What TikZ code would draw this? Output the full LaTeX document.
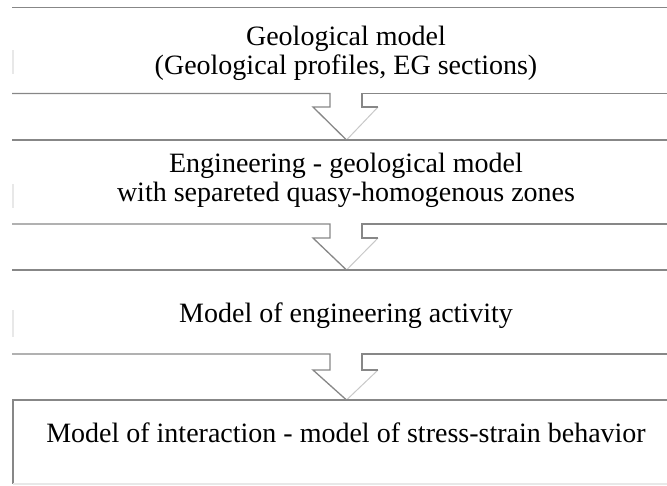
\documentclass[tikz,border=0pt]{standalone}
\usepackage{fontspec}
\setmainfont{Liberation Serif}
\definecolor{linegray}{RGB}{135,135,135}
\definecolor{lightarrow}{RGB}{200,200,200}
\definecolor{faint}{RGB}{232,232,232}
\tikzset{
  boxline/.style={draw=linegray, line width=1.3pt},
  faintline/.style={draw=faint, line width=1.2pt},
  lbl/.style={align=center, inner sep=0pt, font=\fontsize{28}{29}\selectfont}
}
\begin{document}
\begin{tikzpicture}[x=1pt,y=-1pt]
\useasboundingbox (0,0) rectangle (667,485);
% text nodes
\node[lbl] (b1) at (346,53) {Geological model\\(Geological profiles, EG sections)};
\node[lbl] (b2) at (346,180) {Engineering - geological model\\with separeted quasy-homogenous zones};
\node[lbl] (b3) at (346,316) {Model of engineering activity};
\node[lbl] (b4) at (346,433) {Model of interaction - model of stress-strain behavior};
% box 1 top
\draw[boxline] (12,7.5) -- (667,7.5);
% box 1 bottom + arrow 1
\draw[boxline] (12,93.5) -- (330,93.5) -- (330,107) -- (313,107) -- (346.5,140);
\draw[draw=lightarrow, line width=1pt] (346.5,140) -- (378,107);
\draw[boxline] (378,107) -- (362,107) -- (362,93.5) -- (667,93.5);
% box 2 top
\draw[boxline] (12,140) -- (667,140);
% box 2 bottom + arrow 2
\draw[boxline] (12,224) -- (330,224) -- (330,238) -- (313,238) -- (346.5,270);
\draw[draw=lightarrow, line width=1pt] (346.5,270) -- (378,238);
\draw[boxline] (378,238) -- (362,238) -- (362,224) -- (667,224);
% box 3 top
\draw[boxline] (12,270) -- (667,270);
% box 3 bottom + arrow 3
\draw[boxline] (12,354) -- (330,354) -- (330,370) -- (313,370) -- (346.5,400);
\draw[draw=lightarrow, line width=1pt] (346.5,400) -- (378,370);
\draw[boxline] (378,370) -- (362,370) -- (362,354) -- (667,354);
% box 4
\draw[boxline] (667,400) -- (13,400) -- (13,484);
\draw[faintline] (13,484) -- (667,484);
% faint left fragments
\draw[faintline] (13,50) -- (13,74);
\draw[faintline] (13,184) -- (13,208);
\draw[faintline] (13,310) -- (13,337);
\end{tikzpicture}
\end{document}
